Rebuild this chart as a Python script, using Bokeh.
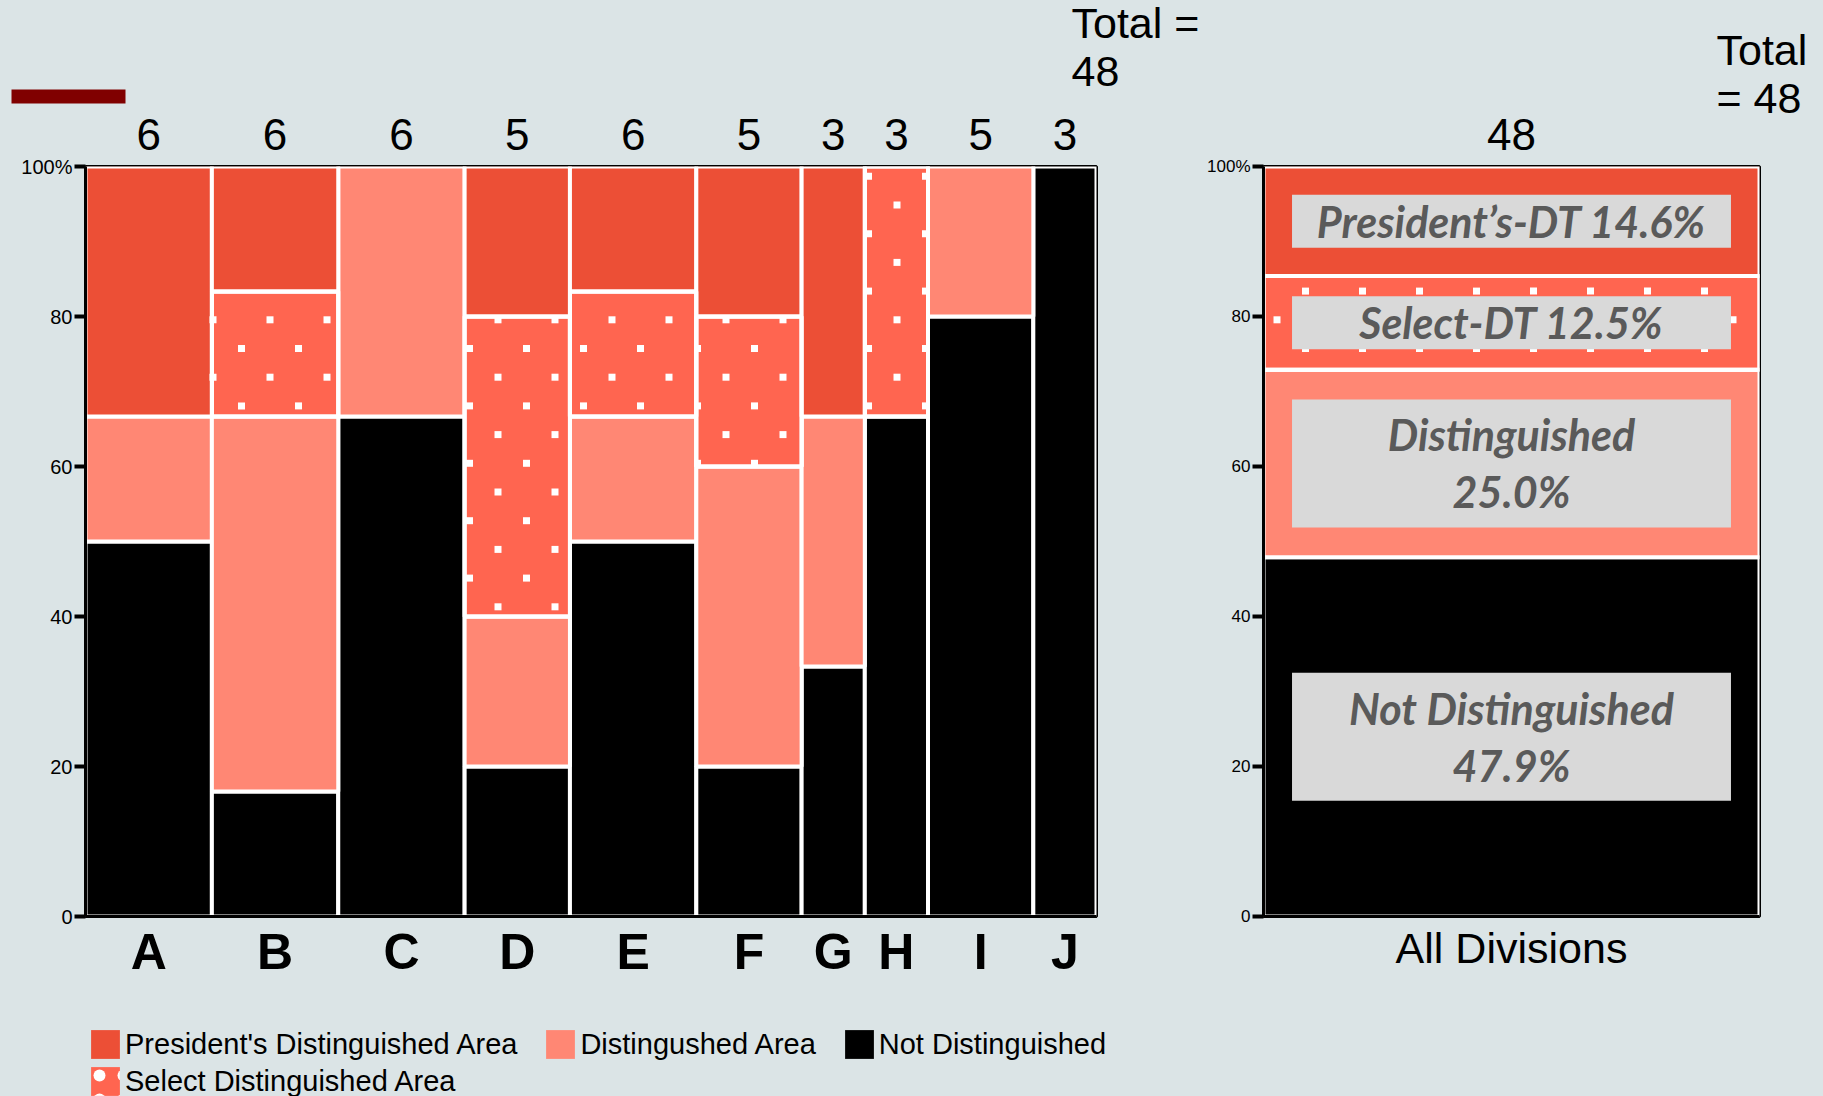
from bokeh.plotting import figure
from bokeh.models import (ColumnDataSource, FixedTicker, Legend, LegendItem,
                          Range1d, LinearAxis, Title)
from bokeh.layouts import row, column
from bokeh.embed import file_html
from bokeh.resources import INLINE
from bokeh.core.properties import value

# ---------------- data ----------------
divisions = ["A", "B", "C", "D", "E", "F", "G", "H", "I", "J"]
not_distinguished = [3, 1, 4, 1, 3, 1, 1, 2, 4, 3]
distinguished = [1, 3, 2, 1, 1, 2, 1, 0, 1, 0]
select_distinguished = [0, 1, 0, 2, 1, 1, 0, 1, 0, 0]
presidents_distinguished = [2, 1, 0, 1, 1, 1, 1, 0, 0, 0]
y_ticks = [0, 20, 40, 60, 80, 100]
series_names = ["Not Distinguished", "Distingushed Area",
                "Select Distinguished Area", "President's Distinguished Area"]
summary_names = ["Not Distinguished", "Distinguished", "Select-DT", "President\u2019s-DT"]
all_label = "All Divisions"

# ---------------- styles ----------------
BG = "#dbe4e6"
C_PRES = "#ec4f36"
C_SEL = "#ff6550"
C_DIST = "#ff8774"
C_NOT = "#000000"
colors = [C_NOT, C_DIST, C_SEL, C_PRES]
FONT = "Liberation Sans"
FW1, FW2, FH = 1011, 496, 750
# dotted texture of the "select" area: staggered lattice (pixels)
DOT_DX, DOT_DY, DOT_AY, DOT_AX_ODD, DOT_AX_EVEN, DOT_SIZE = 57, 28.7, 22.7, 42, 13.5, 7

series = [not_distinguished, distinguished, select_distinguished, presidents_distinguished]
totals = [sum(v) for v in zip(*series)]
grand_total = sum(totals)
lefts = []
acc = 0
for t in totals:
    lefts.append(acc)
    acc += t
rights = [l + t for l, t in zip(lefts, totals)]
centers = [(l + r) / 2 for l, r in zip(lefts, rights)]


def lattice_dots(segs, xspan, fw):
    """texture dots (data coords) inside the given (l, r, b, t) segments"""
    sx = fw / xspan
    sy = FH / 100.0
    xs, ys = [], []
    j = 0
    while DOT_AY + DOT_DY * j <= FH + DOT_DY:
        ypx = DOT_AY + DOT_DY * j
        xpx = DOT_AX_ODD if j % 2 else DOT_AX_EVEN
        while xpx <= fw + DOT_DX:
            x, y = xpx / sx, ypx / sy
            for (l, r, b, t) in segs:
                if l <= x <= r and b <= y <= t:
                    xs.append(x); ys.append(y)
                    break
            xpx += DOT_DX
        j += 1
    return xs, ys


def style_axis(ax, size, ticks_out=0, bold=False, standoff=0, line=True):
    ax.minor_tick_line_color = None
    if ticks_out:
        ax.major_tick_in = 0
        ax.major_tick_out = ticks_out
        ax.major_tick_line_width = 4
        ax.major_tick_line_color = "black"
    else:
        ax.major_tick_line_color = None
    if line:
        ax.axis_line_width = 3
        ax.axis_line_color = "black"
    else:
        ax.axis_line_color = None
    ax.major_label_text_font = FONT
    ax.major_label_text_font_size = size
    ax.major_label_text_color = "black"
    ax.major_label_text_font_style = "bold" if bold else "normal"
    ax.major_label_standoff = standoff


def style_title(t, text, offset, standoff):
    t.text = text
    t.align = "left"
    t.offset = offset
    t.standoff = standoff
    t.text_font = FONT
    t.text_font_size = "43px"
    t.text_font_style = "normal"
    t.text_color = "black"


# ---------------- left mosaic ----------------
p = figure(frame_width=FW1, frame_height=FH, min_border_left=85, min_border_right=108,
           min_border_top=166, min_border_bottom=96,
           x_range=Range1d(0, grand_total), y_range=Range1d(0, 100),
           output_backend="svg", toolbar_location=None,
           background_fill_color=BG, border_fill_color=BG)
p.grid.visible = False
p.outline_line_color = "black"
p.outline_line_width = 3

cum = [0.0] * len(divisions)
select_src = None
for k, vals in enumerate(series):
    L, R, B, T = [], [], [], []
    for i, v in enumerate(vals):
        pct_b = cum[i]
        pct_t = cum[i] + 100.0 * v / totals[i]
        cum[i] = pct_t
        if v > 0:
            L.append(lefts[i]); R.append(rights[i]); B.append(pct_b); T.append(pct_t)
    src = ColumnDataSource(dict(left=L, right=R, bottom=B, top=T))
    if k == 2:
        select_src = src
    p.quad(left="left", right="right", bottom="bottom", top="top", source=src,
           fill_color=colors[k], line_color="white", line_width=4)

sd = select_src.data
dx, dy = lattice_dots(list(zip(sd["left"], sd["right"], sd["bottom"], sd["top"])),
                      grand_total, FW1)
p.scatter(dx, dy, marker="square", size=DOT_SIZE, fill_color="white", line_color=None)
p.quad(left="left", right="right", bottom="bottom", top="top", source=select_src,
       fill_color=None, line_color="white", line_width=4)

xa = p.xaxis[0]
xa.ticker = FixedTicker(ticks=centers)
xa.major_label_overrides = {c: d for c, d in zip(centers, divisions)}
style_axis(xa, "50px", bold=True, standoff=1)

ya = p.yaxis[0]
ya.ticker = FixedTicker(ticks=y_ticks)
ya.major_label_overrides = {100: "100%"}
style_axis(ya, "20px", ticks_out=11, standoff=2)

# counts above the bars
top_ax = LinearAxis(ticker=FixedTicker(ticks=centers),
                    major_label_overrides={c: str(t) for c, t in zip(centers, totals)})
style_axis(top_ax, "44px", standoff=11, line=False)
p.add_layout(top_ax, "above")

# maroon marker bar (title box with filled background)
p.add_layout(Title(text="\u2003" * 9 + "\u2002", align="left", offset=-74, standoff=24,
                   text_font=FONT, text_font_size="12px", text_color="#800000",
                   background_fill_color="#800000", padding=0), "above")

style_title(p.title, "Total =\n" + str(grand_total), 986, -39)

# ---------------- right summary ----------------
p2 = figure(frame_width=FW2, frame_height=FH, min_border_left=57, min_border_right=63,
            min_border_top=166, min_border_bottom=96,
            x_range=Range1d(0, 1), y_range=Range1d(0, 100),
            output_backend="svg", toolbar_location=None,
            background_fill_color=BG, border_fill_color=BG)
p2.grid.visible = False
p2.outline_line_color = "black"
p2.outline_line_width = 3

xa2 = p2.xaxis[0]
xa2.ticker = FixedTicker(ticks=[0.5])
xa2.major_label_overrides = {0.5: all_label}
style_axis(xa2, "43px", standoff=1)

ya2 = p2.yaxis[0]
ya2.ticker = FixedTicker(ticks=y_ticks)
ya2.major_label_overrides = {100: "100%"}
style_axis(ya2, "17px", ticks_out=11, standoff=2)

sums = [sum(v) for v in series]
b = 0.0
mids, texts, segs2 = [], [], []
for k, s in enumerate(sums):
    pct = 100.0 * s / grand_total
    segs2.append((0, 1, b, b + pct))
    p2.quad(left=[0], right=[1], bottom=[b], top=[b + pct], fill_color=colors[k],
            line_color="white", line_width=4)
    mids.append(b + pct / 2)
    sep = "\n" if k < 2 else " "
    texts.append(f"{summary_names[k]}{sep}{pct:.1f}%")
    b += pct

dx2, dy2 = lattice_dots([segs2[2]], 1, FW2)
p2.scatter(dx2, dy2, marker="square", size=DOT_SIZE, fill_color="white", line_color=None)
l2, r2, b2, t2 = segs2[2]
p2.quad(left=[l2], right=[r2], bottom=[b2], top=[t2], fill_color=None,
        line_color="white", line_width=4)

box_h = [128 if "\n" in t else 53 for t in texts]
lab_src = ColumnDataSource(dict(x=[0.5] * 4, y=mids, h=box_h, t=texts))
p2.rect(x="x", y="y", width=0.885, height="h", height_units="screen", source=lab_src,
        fill_color="#d9d9d9", line_color=None)
p2.text(x="x", y="y", text="t", source=lab_src, text_align="center", text_baseline="middle",
        text_font=value("Lato"), text_font_style="bold italic", text_font_size="43px",
        text_color="#5a5a5a", text_line_height=1.12)

top_ax2 = LinearAxis(ticker=FixedTicker(ticks=[0.5]),
                     major_label_overrides={0.5: str(grand_total)})
style_axis(top_ax2, "44px", standoff=11, line=False)
p2.add_layout(top_ax2, "above")

style_title(p2.title, "Total\n= " + str(grand_total), 453, -13)

# ---------------- legend strip ----------------
lf = figure(width=1823, height=84, min_border=0, x_range=Range1d(0, 1), y_range=Range1d(0, 1),
            x_axis_type=None, y_axis_type=None, title=None,
            output_backend="svg", toolbar_location=None,
            background_fill_color=BG, border_fill_color=BG)
lf.grid.visible = False
lf.outline_line_color = None

proxies = []
for k in range(4):
    kw = dict(hatch_pattern="dot", hatch_color="white", hatch_scale=24,
              hatch_weight=0.3) if k == 2 else {}
    proxies.append(lf.quad(left=[0], right=[0], bottom=[0], top=[0], fill_color=colors[k],
                           line_color=None, **kw))


def mk_legend(idx, loc):
    return Legend(items=[LegendItem(label=series_names[i], renderers=[proxies[i]]) for i in idx],
                  orientation="horizontal", location=loc,
                  background_fill_alpha=0, border_line_alpha=0,
                  label_text_font=FONT, label_text_font_size="29px", label_text_color="black",
                  glyph_width=36, glyph_height=36, label_height=29, label_standoff=2,
                  spacing=25, padding=0, margin=0)


lf.add_layout(mk_legend([3, 1, 0], (87, 34)))
lf.add_layout(mk_legend([2], (87, -3)))

layout = column(row(p, p2, styles={"background-color": BG}), lf,
                styles={"background-color": BG})
open("out.html", "w").write(file_html(layout, INLINE))
